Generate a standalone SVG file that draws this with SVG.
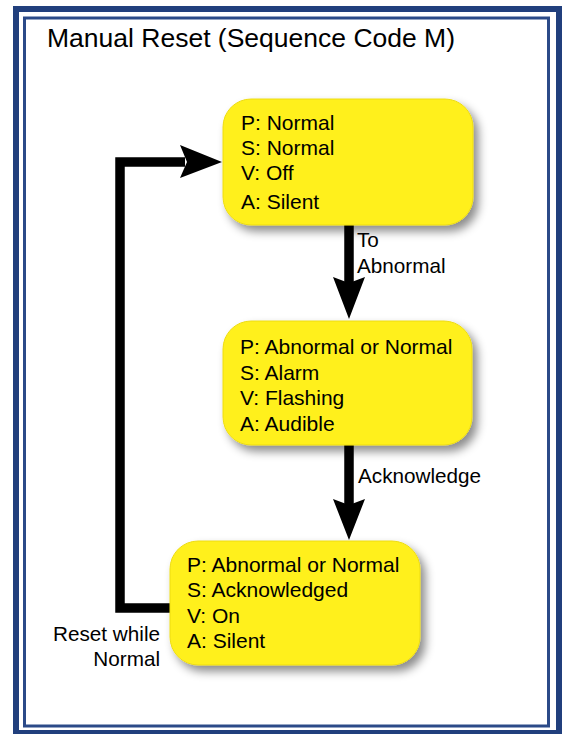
<svg xmlns="http://www.w3.org/2000/svg" width="567" height="734" viewBox="0 0 567 734">
  <style>
    .frame-outer { fill: none; stroke: #213f7d; stroke-width: 6; }
    .frame-inner { fill: none; stroke: #2b4a88; stroke-width: 3; }
    .title { font-family: "Liberation Sans", Arial, sans-serif; font-size: 26.5px; fill: #000; }
    .node rect { fill: #fff01e; stroke: #eddc12; stroke-width: 1; filter: url(#shadow); }
    .node text { font-family: "Liberation Sans", Arial, sans-serif; font-size: 21px; fill: #000; }
    .label { font-family: "Liberation Sans", Arial, sans-serif; font-size: 20.7px; fill: #000; }
    .line { fill: none; stroke: #000; stroke-width: 9.5; stroke-linejoin: miter; stroke-miterlimit: 10; }
    .head { fill: #000; }
  </style>
  <defs>
    <filter id="shadow" x="-20%" y="-20%" width="150%" height="160%">
      <feDropShadow dx="5" dy="6" stdDeviation="5" flood-color="#000" flood-opacity="0.45"/>
    </filter>
  </defs>

  <rect x="0" y="0" width="567" height="734" fill="#fff"/>
  <rect class="frame-outer" x="16" y="9" width="543" height="724"/>
  <rect class="frame-inner" x="24.5" y="18" width="524" height="708"/>

  <text class="title" x="47" y="47">Manual Reset (Sequence Code M)</text>

  <g id="connectors">
    <!-- To Abnormal -->
    <line class="line" x1="349" y1="224" x2="349" y2="284"/>
    <polygon class="head" points="333,277 349,283 365,277 349,319"/>
    <text class="label" x="357" y="247">To</text>
    <text class="label" x="357" y="273">Abnormal</text>
    <!-- Acknowledge -->
    <line class="line" x1="349" y1="445" x2="349" y2="506"/>
    <polygon class="head" points="333,499 349,505 365,499 349,540"/>
    <text class="label" x="358" y="483">Acknowledge</text>
    <!-- Reset while Normal -->
    <polyline class="line" points="171,608 120,608 120,162 185,162"/>
    <polygon class="head" points="180,145 187,162 180,178 222,162"/>
    <text class="label" x="160" y="641" text-anchor="end">Reset while</text>
    <text class="label" x="160" y="666" text-anchor="end">Normal</text>
  </g>

  <g id="node-normal" class="node">
    <rect x="223" y="99" width="250" height="126" rx="28" ry="28"/>
    <text x="241" y="129.5">P: Normal</text>
    <text x="241" y="154.5">S: Normal</text>
    <text x="241" y="180">V: Off</text>
    <text x="241" y="209">A: Silent</text>
  </g>

  <g id="node-alarm" class="node">
    <rect x="223" y="321" width="249" height="124" rx="28" ry="28"/>
    <text x="240" y="354">P: Abnormal or Normal</text>
    <text x="240" y="379.5">S: Alarm</text>
    <text x="240" y="405">V: Flashing</text>
    <text x="240" y="430.5">A: Audible</text>
  </g>

  <g id="node-acknowledged" class="node">
    <rect x="170" y="541" width="250" height="124" rx="28" ry="28"/>
    <text x="187" y="571.5">P: Abnormal or Normal</text>
    <text x="187" y="596.5">S: Acknowledged</text>
    <text x="187" y="622.5">V: On</text>
    <text x="187" y="648">A: Silent</text>
  </g>
</svg>
